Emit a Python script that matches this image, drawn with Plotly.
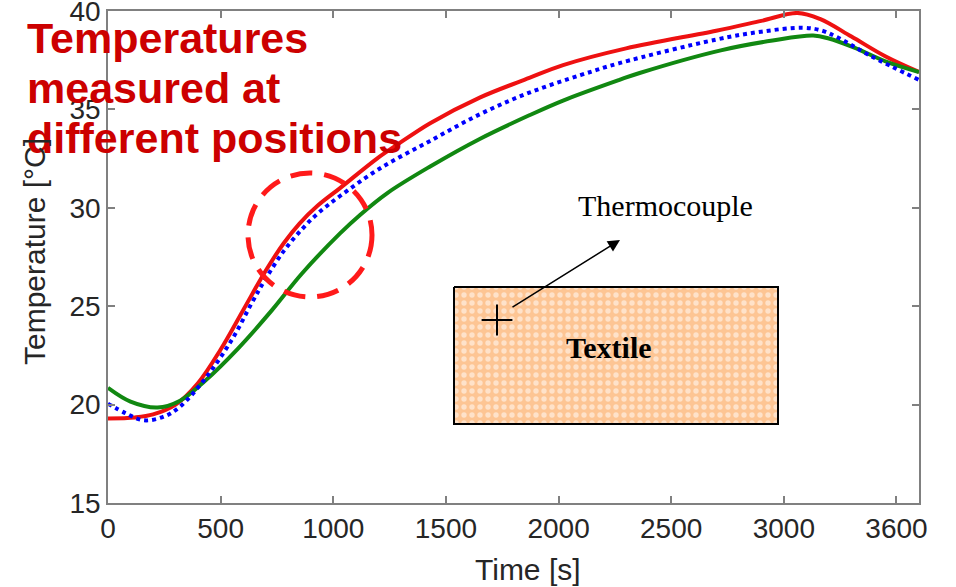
import plotly.graph_objects as go

# Measured temperature histories (time in s, temperature in °C)
red_t = [0, 120, 200, 300, 400, 500, 600, 700, 780, 850, 930, 1030, 1194, 1283, 1430, 1650,
         1870, 2020, 2300, 2700, 2900, 3060, 3160, 3300, 3450, 3600]
red_T = [19.3, 19.35, 19.5, 20.0, 21.1, 22.8, 24.8, 26.8, 28.2, 29.2, 30.1, 31.0, 32.5, 33.2,
         34.3, 35.6, 36.6, 37.25, 38.1, 39.0, 39.5, 39.9, 39.6, 38.7, 37.7, 36.9]

blue_t = [0, 80, 160, 250, 320, 430, 550, 640, 700, 780, 860, 930, 1030, 1207, 1430, 1650,
          1870, 2100, 2270, 2700, 2900, 3085, 3170, 3240, 3380, 3600]
blue_T = [20.05, 19.55, 19.2, 19.4, 19.9, 21.3, 23.3, 25.2, 26.4, 27.8, 28.9, 29.7, 30.6, 32.0,
          33.4, 34.75, 35.85, 36.75, 37.35, 38.55, 38.95, 39.15, 39.0, 38.65, 37.75, 36.5]

green_t = [0, 100, 220, 320, 430, 577, 728, 860, 1030, 1120, 1240, 1430, 1650,
           1870, 2020, 2270, 2360, 2720, 2950, 3130, 3200, 3310, 3460, 3600]
green_T = [20.85, 20.15, 19.85, 20.2, 21.2, 22.85, 24.8, 26.65, 28.7, 29.65, 30.75, 32.1, 33.5,
           34.7, 35.45, 36.5, 36.85, 38.0, 38.5, 38.75, 38.6, 38.15, 37.4, 36.9]

x_tickvals = [0, 500, 1000, 1500, 2000, 2500, 3000, 3500]
x_ticktext = ["0", "500", "1000", "1500", "2000", "2500", "3000", "3600"]
y_tickvals = [15, 20, 25, 30, 35, 40]

W, H = 956, 587
L, R, T, B = 108, 37, 11, 84
SANS = "Liberation Sans"
SERIF = "Liberation Serif"
AXIS_GRAY = "#808080"
TEXT_DARK = "#262626"


def px(x):
    """Page pixel column -> paper fraction."""
    return (x - L) / (W - L - R)


def py(y):
    """Page pixel row -> paper fraction."""
    return (H - B - y) / (H - B - T)


fig = go.Figure()

fig.add_trace(go.Scatter(x=red_t, y=red_T, mode="lines", name="red",
                         line=dict(color="#EE1111", width=4, shape="spline")))
fig.add_trace(go.Scatter(x=green_t, y=green_T, mode="lines", name="green",
                         line=dict(color="#118811", width=4, shape="spline")))
fig.add_trace(go.Scatter(x=blue_t, y=blue_T, mode="lines", name="blue",
                         line=dict(color="#0000FF", width=4, shape="spline", dash="4px,4px")))

# Sketch of the textile sample (drawn on a pixel-based overlay axis pair)
box_x = [454, 778, 778, 454, 454]
box_y = [287, 287, 424, 424, 287]
fig.add_trace(go.Scatter(
    x=box_x, y=box_y, xaxis="x2", yaxis="y2", mode="lines", fill="toself",
    line=dict(color="black", width=2),
    fillcolor="#FDC594",
    fillpattern=dict(shape=".", fgcolor="#FFFFFF", bgcolor="#FDC594", size=8, solidity=0.35),
    hoverinfo="skip", showlegend=False))

# Thermocouple position marker
fig.add_trace(go.Scatter(
    x=[497], y=[320], xaxis="x2", yaxis="y2", mode="markers",
    marker=dict(symbol="cross-thin", size=22, line=dict(color="black", width=2)),
    hoverinfo="skip", showlegend=False))

title_lines = [("Temperatures", 38), ("measured at", 88), ("different positions", 138)]
annotations = [
    dict(text=txt, x=px(25), y=py(yc), xref="paper", yref="paper",
         xanchor="left", yanchor="middle", showarrow=False,
         font=dict(family=SANS, size=43, color="#CC0000", weight="bold"))
    for txt, yc in title_lines
]

annotations += [
    dict(text="Thermocouple", x=665, y=205, xref="x2", yref="y2", showarrow=False,
         xanchor="center", yanchor="middle",
         font=dict(family=SERIF, size=30, color="black")),
    dict(text="Textile", x=609, y=347, xref="x2", yref="y2", showarrow=False,
         xanchor="center", yanchor="middle",
         font=dict(family=SERIF, size=30, color="black", weight="bold")),
    dict(text="", x=620, y=240, ax=511, ay=308, xref="x2", yref="y2",
         axref="x2", ayref="y2", showarrow=True, arrowhead=2, arrowsize=1.6,
         arrowwidth=1.5, arrowcolor="black", standoff=0, startstandoff=0),
    dict(text="Time [s]", x=px(528), y=py(569), xref="paper", yref="paper", showarrow=False,
         xanchor="center", yanchor="middle",
         font=dict(family=SANS, size=30, color=TEXT_DARK)),
    dict(text="Temperature [°C]", x=px(34), y=py(252), xref="paper", yref="paper",
         showarrow=False, xanchor="center", yanchor="middle", textangle=-90,
         font=dict(family=SANS, size=30, color=TEXT_DARK)),
]

shapes = [
    dict(type="circle", xref="x2", yref="y2", x0=248, x1=372, y0=173, y1=297,
         line=dict(color="#FF1A1A", width=5, dash="22px,12px")),
]

axis_common = dict(
    showline=True, linecolor=AXIS_GRAY, linewidth=1.5, mirror="ticks",
    ticks="inside", ticklen=7, tickcolor=AXIS_GRAY, tickwidth=1.5,
    showgrid=False, zeroline=False, ticklabeloverflow="allow", automargin=False,
    tickfont=dict(family=SANS, size=28, color=TEXT_DARK),
)

fig.update_layout(
    width=W, height=H,
    margin=dict(l=L, r=R, t=T, b=B, autoexpand=False),
    paper_bgcolor="white", plot_bgcolor="white",
    showlegend=False,
    xaxis=dict(range=[0, 3600], tickvals=x_tickvals, ticktext=x_ticktext, **axis_common),
    yaxis=dict(range=[15, 40], tickvals=y_tickvals, **axis_common),
    xaxis2=dict(range=[L, W - R], overlaying="x", anchor="y2", visible=False),
    yaxis2=dict(range=[H - B, T], overlaying="y", anchor="x2", visible=False),
    annotations=annotations,
    shapes=shapes,
)

fig.write_html("out.html")
